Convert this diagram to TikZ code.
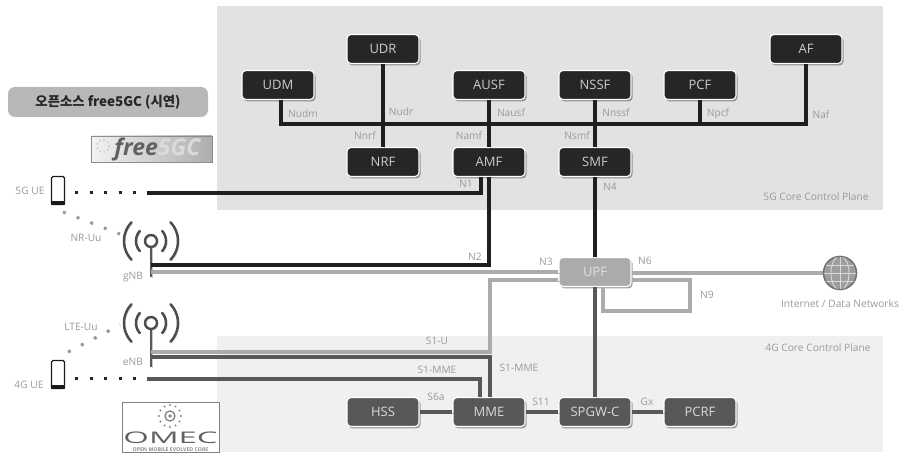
\documentclass[tikz,border=0pt]{standalone}
\usepackage{fontspec}
\setmainfont{Open Sans}
\newfontfamily\krfont{Noto Sans CJK KR}
\usetikzlibrary{shadows,calc}
\definecolor{plA}{HTML}{E2E2E2}
\definecolor{plB}{HTML}{F0F0F0}
\definecolor{txt}{HTML}{9A9A9A}
\definecolor{nfA}{HTML}{262626}
\definecolor{nfB}{HTML}{585858}
\definecolor{nfC}{HTML}{ABABAB}
\definecolor{lnG}{HTML}{ABABAB}
\definecolor{lnD}{HTML}{585858}
\tikzset{
  nf/.style={rectangle,rounded corners=4pt,minimum width=72pt,minimum height=29pt,inner sep=0pt,
    draw=white,line width=1.1pt,text=#1,font=\fontsize{13}{14}\selectfont,
    drop shadow={shadow xshift=1.5pt,shadow yshift=-2pt,opacity=.35,fill=black}},
  nfa/.style={nf=white!80!black,fill=nfA},
  nfb/.style={nf=white!85!black,fill=nfB},
  nfc/.style={nf=white!88!black,fill=nfC},
  lab/.style={text=txt,inner sep=0pt,font=\fontsize{10.2}{11}\selectfont},
  lshadow/.style={preaction={draw=black,opacity=.22,transform canvas={shift={(1.2pt,-1.4pt)}}}},
  blk/.style={draw=black!88,line width=3.1pt,lshadow},
  dgr/.style={draw=lnD,line width=3.1pt,lshadow},
  lgr/.style={draw=lnG,line width=3.8pt,lshadow},
  wave/.style={line width=2.5pt,line cap=round,draw=#1,lshadow},
  dots/.style={line width=3pt,dash pattern=on 3pt off 11.5pt,draw=black!85},
  gdots/.style={line width=3pt,dash pattern=on 3pt off 11.6pt,draw=black!40},
  phone/.style={rectangle,rounded corners=1.5pt,draw=black!90,line width=1.3pt,minimum width=13pt,minimum height=28pt,inner sep=0pt,fill=white},
}
\begin{document}
\begin{tikzpicture}[x=1pt,y=-1pt]
\useasboundingbox (0,0) rectangle (906,454);
\fill[white] (0,0) rectangle (906,454);
% planes
\node[fill=plA,inner sep=0pt,minimum width=666pt,minimum height=204pt] (plane5) at (550,108) {};
\node[fill=plB,inner sep=0pt,minimum width=666pt,minimum height=116pt] (plane4) at (550,394) {};
% nodes
\node[nfa] (udr) at (383,49) {UDR};
\node[nfa] (udm) at (278,85) {UDM};
\node[nfa] (ausf) at (489,85) {AUSF};
\node[nfa] (nssf) at (595,85) {NSSF};
\node[nfa] (pcf) at (700,85) {PCF};
\node[nfa] (af) at (806,49) {AF};
\node[nfa] (nrf) at (383,162) {NRF};
\node[nfa] (amf) at (489,162) {AMF};
\node[nfa] (smf) at (595,162) {SMF};
\node[nfc] (upf) at (595,272) {UPF};
\node[nfb] (hss) at (383,412) {HSS};
\node[nfb] (mme) at (489,412) {MME};
\node[nfb] (spgw) at (595,412) {SPGW-C};
\node[nfb] (pcrf) at (700,412) {PCRF};
% end points
\coordinate (gnb) at (151,241);
\coordinate (enb) at (151,323);
\coordinate (ue5) at (147,193);
\coordinate (ue4) at (147,379);
\coordinate (busR) at (806,124);
% radio icons
\foreach \c/\len in {gnb/36,enb/44}{
  \draw[dgr,line width=2.4pt] ($(\c)+(0,7)$) -- ($(\c)+(0,\len)$);
  \draw[line width=2.4pt,draw=black!70,lshadow] (\c) circle (6pt);
  \foreach \r/\a in {15/42,27/44}{
    \draw[wave=black!70,shift={(\c)}] plot[domain=-\a:\a,samples=17,smooth] ({\r*cos(\x)},{\r*sin(\x)});
    \draw[wave=black!70,shift={(\c)}] plot[domain=-\a:\a,samples=17,smooth] ({-\r*cos(\x)},{\r*sin(\x)});
  }
}
% grey data-plane lines
\draw[lgr] (gnb |- 0,272) -- (upf.west |- 0,272);
\draw[lgr] (upf.west |- 0,280) -- (490,280) -- (490,352) -- (enb |- 0,352);
\draw[lgr] (upf.east |- 0,273) -- (823,273);
\draw[lgr,line width=3.2pt] (upf.east |- 0,280) -- (690,280) -- (690,311) -- (603,311) -- (603,288);
% 5G control
\draw[blk] ([xshift=3pt]udm.south) |- (busR) -- (af.south);
\draw[blk] (udr.south) -- (nrf.north);
\draw[blk] (ausf.south) -- (amf.north);
\draw[blk] (nssf.south) -- (smf.north);
\draw[blk] (pcf.south) -- (pcf.south |- busR);
\draw[blk] (ue5) -| ([xshift=-8pt]amf.south);
\draw[blk] (amf.south) |- (gnb |- 0,265);
\draw[blk] (smf.south) -- (upf.north);
% 4G control
\draw[dgr] (upf.south) -- (spgw.north);
\draw[dgr] (enb |- 0,357) -| ([xshift=1pt]mme.north);
\draw[dgr] (ue4) -| ([xshift=-9pt]mme.north);
\draw[dgr] (hss.east) -- (mme.west);
\draw[dgr] (mme.east) -- (spgw.west);
\draw[dgr] (spgw.east) -- (pcrf.west);
% phones and dots
\node[phone] (ph5) at (58,190.5) {};
\node[phone] (ph4) at (58,374.5) {};
\foreach \p in {ph5,ph4}{\fill[black!90] ($(\p)+(-7,10.5)$) rectangle ($(\p)+(7,14.5)$);}
\draw[dots] (ph5.east |- ue5) ++(10,0) -- ($(ue5)+(-9,0)$);
\draw[dots] (ph4.east |- ue4) ++(10,0) -- ($(ue4)+(-9,0)$);
\draw[gdots] (63,212) -- ($(gnb)+(-31,-7)$);
\draw[gdots] (68,352) -- ($(enb)+(-31,2)$);
% globe
\node[circle,draw=black!55,line width=1.6pt,minimum size=33pt,inner sep=0pt,fill=black!38] (globe) at (840,273) {};
\begin{scope}[draw=white!85!black,line width=.9pt]
\clip (840,273) circle (16pt);
\draw (823,273) -- (857,273) (823,265) -- (857,265) (823,281) -- (857,281) (840,256) -- (840,290);
\draw (840,273) ellipse [x radius=9pt,y radius=17pt];
\end{scope}
% labels
\node[lab] at (303,114) {Nudm};
\node[lab] at (401,112) {Nudr};
\node[lab] at (511,113) {Nausf};
\node[lab] at (365,136) {Nnrf};
\node[lab] at (469,136) {Namf};
\node[lab] at (466,184) {N1};
\node[lab] at (616,113) {Nnssf};
\node[lab] at (718,114) {Npcf};
\node[lab] at (821,115) {Naf};
\node[lab] at (577,136) {Nsmf};
\node[lab] at (610,187) {N4};
\node[lab] at (816,197) {5G Core Control Plane};
\node[lab] at (475,257) {N2};
\node[lab] at (546,262) {N3};
\node[lab] at (645,261) {N6};
\node[lab] at (707,295) {N9};
\node[lab] at (840,304) {Internet / Data Networks};
\node[lab] at (818,348) {4G Core Control Plane};
\node[lab] at (437,341) {S1-U};
\node[lab] at (519,368) {S1-MME};
\node[lab] at (437,370) {S1-MME};
\node[lab] at (436,397) {S6a};
\node[lab] at (541,402) {S11};
\node[lab] at (647,402) {Gx};
\node[lab] at (30,191) {5G UE};
\node[lab] at (86,238) {NR-Uu};
\node[lab] at (133,277) {gNB};
\node[lab] at (133,362) {eNB};
\node[lab] at (81,327) {LTE-Uu};
\node[lab] at (29,385) {4G UE};
% title
\node[fill=black!28,rounded corners=7pt,minimum width=200pt,minimum height=30pt,inner sep=0pt,text=black!85,font=\fontsize{13.4}{15}\selectfont\krfont\bfseries] (title) at (108,102) {오픈소스 free5GC (시연)};
% free5GC logo
\node[draw=black!45,line width=.8pt,left color=black!5,right color=black!32,minimum width=121pt,minimum height=26pt,inner sep=0pt,font=\fontsize{23}{24}\selectfont\bfseries\itshape,drop shadow={shadow xshift=1pt,shadow yshift=-1pt,opacity=.25,fill=black}] (freelogo) at (151.5,149) {\hspace*{12pt}\textcolor{black!62}{free}\textcolor{black!14}{5GC}};
\foreach \a in {0,40,...,320}{\fill[black!25] ($(103,146)+(\a:6pt)$) circle (.9pt);}
% OMEC logo
\node[draw=black!50,line width=.8pt,fill=white,minimum width=97pt,minimum height=50pt,inner sep=0pt] (omec) at (170.5,427) {};
\node[inner sep=0pt,text=black!62,font=\fontsize{16}{17}\selectfont] at (170.5,438) {\scalebox{2.05}[1]{OMEC}};
\node[inner sep=0pt,text=black!45,font=\fontsize{5.2}{6}\selectfont\bfseries] at (170.5,449.5) {OPEN MOBILE EVOLVED CORE};
\foreach \a in {0,30,...,330}{\fill[black!45] ($(170,416)+(\a:11pt)$) circle (1.1pt);}
\draw[black!50,line width=1.3pt] (170,416) circle (5pt);
\fill[black!50] (170,416) circle (1.8pt);
\end{tikzpicture}
\end{document}
